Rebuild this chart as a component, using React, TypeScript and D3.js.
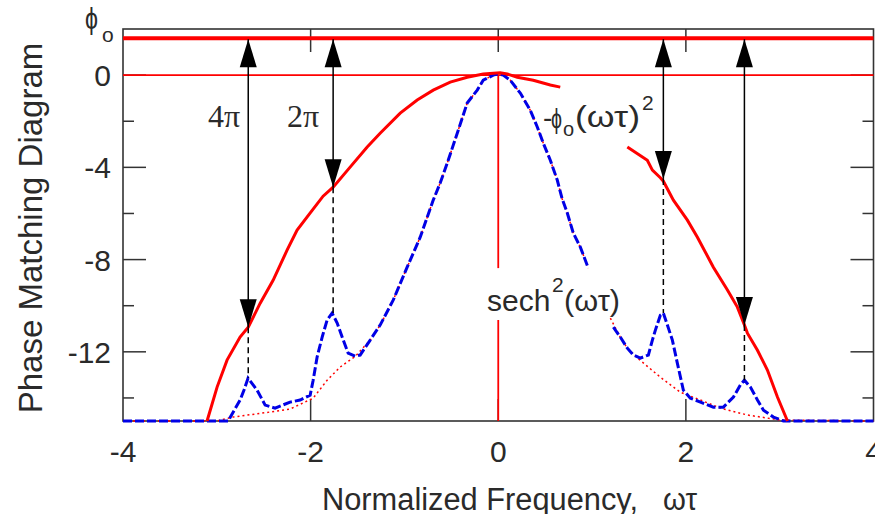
import React from 'react';
import * as d3 from 'd3';

const W = 875;
const H = 514;

const xDomain: [number, number] = [-4, 4];
const yDomain: [number, number] = [-15, 2];
const xTickLabels = ['-4', '-2', '0', '2', '4'];
const xTickValues = [-4, -2, 0, 2, 4];
const xInnerTicks = [-2, 0, 2];
const yMajorTicks = [0, -4, -8, -12];
const yTickLabels = ['0', '-4', '-8', '-12'];
const yMinorTicks = [-2, -6, -10, -14];
const phi0 = 1.6;

// -phi0 (w tau)^2 phase curve (red, solid)
const phaseLeft: [number, number][] = [
  [-3.104, -15], [-2.997, -13.53], [-2.891, -12.36], [-2.752, -11.36], [-2.665, -10.93],
  [-2.539, -9.9], [-2.4, -8.9], [-2.251, -7.59], [-2.144, -6.72], [-2.0, -5.95],
  [-1.867, -5.25], [-1.76, -4.86], [-1.579, -3.99], [-1.397, -3.12], [-1.259, -2.52],
  [-1.045, -1.65], [-0.864, -1.08], [-0.693, -0.65], [-0.512, -0.3], [-0.331, -0.09],
  [-0.16, 0.05], [0.02, 0.1], [0.096, 0.05], [0.203, -0.09], [0.373, -0.22],
  [0.555, -0.43], [0.661, -0.52],
];
const phaseRight: [number, number][] = [
  [1.376, -3.12], [1.589, -3.69], [1.643, -4.12], [1.728, -4.45], [1.76, -4.6],
  [1.867, -5.42], [2.016, -6.29], [2.123, -7.03], [2.293, -8.33], [2.443, -9.32],
  [2.549, -10.06], [2.624, -10.84], [2.656, -11.19], [2.763, -11.93], [2.869, -12.79],
  [2.976, -13.96], [3.083, -15],
];

// spectrum with sidelobes (blue, dashed)
const spectrumLeft: [number, number][] = [
  [-4, -15], [-2.88, -15], [-2.752, -14.09], [-2.71, -13.66], [-2.667, -13.14],
  [-2.571, -13.66], [-2.485, -14.31], [-2.379, -14.44], [-2.219, -14.18], [-2.112, -14.09],
  [-2.005, -13.88], [-1.973, -13.23], [-1.931, -12.23], [-1.877, -11.36], [-1.824, -10.62],
  [-1.771, -10.32], [-1.717, -10.75], [-1.664, -11.36], [-1.6, -12.06], [-1.525, -12.19],
  [-1.472, -12.14], [-1.365, -11.49], [-1.259, -10.84], [-1.12, -9.76], [-0.971, -8.33],
  [-0.832, -7.03], [-0.693, -5.42], [-0.619, -4.68], [-0.544, -3.82], [-0.437, -2.52],
  [-0.331, -1.21], [-0.224, -0.65], [-0.16, -0.22], [-0.053, 0], [0, 0.05],
  [0.053, 0], [0.128, -0.22], [0.235, -0.78], [0.341, -1.52], [0.416, -2.25],
  [0.48, -2.95], [0.555, -3.69], [0.629, -4.55], [0.68, -5.35], [0.736, -5.98],
  [0.8, -6.85], [0.875, -7.46], [0.96, -8.37],
];
const spectrumRight: [number, number][] = [
  [1.227, -10.93], [1.301, -11.36], [1.376, -11.84], [1.44, -12.14], [1.515, -12.27],
  [1.6, -12.14], [1.643, -11.49], [1.675, -11.06], [1.728, -10.41], [1.76, -10.32],
  [1.803, -10.84], [1.856, -11.49], [1.909, -12.49], [1.973, -13.66], [2.048, -14.01],
  [2.155, -14.18], [2.293, -14.4], [2.4, -14.4], [2.507, -13.96], [2.581, -13.44],
  [2.624, -13.23], [2.688, -13.53], [2.763, -14.09], [2.827, -14.53], [2.933, -14.83],
  [3.04, -15], [4, -15],
];

// sech^2 baseline (red, dotted)
const baselineLeft: [number, number][] = [
  [-4, -15], [-3.0, -15], [-2.827, -14.83], [-2.432, -14.61], [-2.219, -14.48],
  [-1.973, -14.01], [-1.824, -13.23], [-1.685, -12.66], [-1.525, -12.2], [-1.365, -11.49],
  [-1.259, -10.84], [-1.12, -9.76], [-0.971, -8.33], [-0.832, -7.03], [-0.693, -5.42],
  [-0.619, -4.68], [-0.544, -3.82], [-0.437, -2.52], [-0.331, -1.21], [-0.224, -0.65],
  [-0.16, -0.22], [-0.053, 0], [0, 0.05], [0.053, 0], [0.128, -0.22], [0.235, -0.78],
  [0.341, -1.52], [0.416, -2.25], [0.48, -2.95], [0.555, -3.69], [0.629, -4.55],
  [0.68, -5.35], [0.736, -5.98], [0.8, -6.85], [0.875, -7.46], [0.96, -8.37],
];
const baselineRight: [number, number][] = [
  [1.195, -10.54], [1.3, -11.36], [1.376, -11.84], [1.493, -12.3], [1.728, -13.1],
  [1.941, -13.75], [2.155, -14.09], [2.368, -14.44], [2.656, -14.74], [3.008, -14.96],
  [4, -15],
];

// arrows: 4pi, 2pi, 2pi, 4pi
const arrowX = [-2.665, -1.76, 1.76, 2.624];
const arrowTipY = [-10.93, -4.86, -4.5, -10.84];
const sidelobePeakY = [-13.14, -10.32, -10.32, -13.23];

// zero-frequency vertical line, interrupted by the sech^2 label
const zeroLineSegments: [number, number][] = [[0, -8.37], [-10.62, -15]];

const x = d3.scaleLinear().domain(xDomain).range([123, 873.5]);
const y = d3.scaleLinear().domain(yDomain).range([421, 29]);
const line = d3.line<[number, number]>().x((d) => x(d[0])).y((d) => y(d[1]));

const RED = '#ff0000';
const BLUE = '#0000e6';
const AX = '#333333';
const TXT = '#2a2a2a';
const SANS = '"Liberation Sans", Arial, sans-serif';
const SERIF = '"Liberation Serif", "Times New Roman", serif';

export default function App() {
  const left = x(xDomain[0]);
  const right = x(xDomain[1]);
  const top = y(yDomain[1]);
  const bottom = y(yDomain[0]);
  const headH = 28;
  const headW = 8.5;
  return (
    <svg width={W} height={H} style={{ position: 'absolute', left: 0, top: 0, background: '#fff' }}
      fontFamily={SANS}>
      <rect x={0} y={0} width={W} height={H} fill="#fff" />
      {/* ticks */}
      {yMajorTicks.map((v) => (
        <g key={'ym' + v}>
          <line x1={left} x2={left + 23} y1={y(v)} y2={y(v)} stroke={AX} strokeWidth={1.5} />
          <line x1={right} x2={right - 23} y1={y(v)} y2={y(v)} stroke={AX} strokeWidth={1.5} />
        </g>
      ))}
      {yMinorTicks.map((v) => (
        <g key={'yn' + v}>
          <line x1={left} x2={left + 11} y1={y(v)} y2={y(v)} stroke={AX} strokeWidth={1.5} />
          <line x1={right} x2={right - 11} y1={y(v)} y2={y(v)} stroke={AX} strokeWidth={1.5} />
        </g>
      ))}
      {xInnerTicks.map((v) => (
        <g key={'xt' + v}>
          <line x1={x(v)} x2={x(v)} y1={bottom} y2={bottom - 22} stroke={AX} strokeWidth={1.5} />
          <line x1={x(v)} x2={x(v)} y1={top} y2={top + 23} stroke={AX} strokeWidth={1.5} />
        </g>
      ))}
      <rect x={left} y={top} width={right - left} height={bottom - top} fill="none" stroke={AX} strokeWidth={1.6} />

      {/* reference lines */}
      <line x1={left} x2={right} y1={y(0)} y2={y(0)} stroke={RED} strokeWidth={1.8} />
      {zeroLineSegments.map((s, i) => (
        <line key={'z' + i} x1={x(0)} x2={x(0)} y1={y(s[0])} y2={y(s[1])} stroke={RED} strokeWidth={1.8} />
      ))}

      {/* baseline dotted */}
      {[baselineLeft, baselineRight].map((d, i) => (
        <path key={'b' + i} d={line(d) || ''} fill="none" stroke={RED} strokeWidth={1.5} strokeDasharray="2,3" />
      ))}
      {/* spectrum dashed */}
      {[spectrumLeft, spectrumRight].map((d, i) => (
        <path key={'s' + i} d={line(d) || ''} fill="none" stroke={BLUE} strokeWidth={3} strokeDasharray="9,3" />
      ))}
      {/* phase curve */}
      {[phaseLeft, phaseRight].map((d, i) => (
        <path key={'p' + i} d={line(d) || ''} fill="none" stroke={RED} strokeWidth={3} />
      ))}
      <line x1={left} x2={right} y1={y(phi0)} y2={y(phi0)} stroke={RED} strokeWidth={4} />

      {/* arrows */}
      {arrowX.map((ax, i) => {
        const cx = x(ax);
        const yTop = y(phi0) + 1;
        const yTip = y(arrowTipY[i]);
        const yPeak = y(sidelobePeakY[i]);
        return (
          <g key={'a' + i}>
            <line x1={cx} x2={cx} y1={yTop} y2={yTip} stroke="#000" strokeWidth={1.5} />
            <line x1={cx} x2={cx} y1={yTip} y2={yPeak} stroke="#000" strokeWidth={1.5} strokeDasharray="6,4" />
            <path d={`M${cx},${yTop} L${cx + headW},${yTop + headH} L${cx - headW},${yTop + headH} Z`} fill="#000" />
            <path d={`M${cx},${yTip} L${cx + headW},${yTip - headH} L${cx - headW},${yTip - headH} Z`} fill="#000" />
          </g>
        );
      })}

      {/* tick labels */}
      {yMajorTicks.map((v, i) => (
        <text key={'yl' + v} x={111} y={y(v) + 11} textAnchor="end" fontSize={30} fill={TXT}>{yTickLabels[i]}</text>
      ))}
      {xTickValues.map((v, i) => (
        <text key={'xl' + v} x={x(v)} y={462} textAnchor="middle" fontSize={30} fill={TXT}>{xTickLabels[i]}</text>
      ))}
      {/* phi_o label on y axis */}
      <text x={85} y={29} fontSize={30} fill={TXT} textLength={13} lengthAdjust="spacingAndGlyphs">ϕ</text>
      <text x={102} y={42} fontSize={21} fill={TXT}>o</text>

      {/* axis titles */}
      <text transform="translate(42,228) rotate(-90)" textAnchor="middle" fontSize={33} fill={TXT}>Phase Matching Diagram</text>
      <text x={322} y={510} fontSize={31} fill={TXT} textLength={316} lengthAdjust="spacingAndGlyphs">Normalized Frequency,</text>
      <text x={663} y={510} fontSize={31} fill={TXT} textLength={34} lengthAdjust="spacingAndGlyphs">ωτ</text>

      {/* annotations */}
      <text x={208} y={127} fontSize={32} fontFamily={SERIF} fill={TXT}>4π</text>
      <text x={287} y={127} fontSize={32} fontFamily={SERIF} fill={TXT}>2π</text>

      <text x={543} y={127} fontSize={28} fill={TXT}>-</text>
      <text x={551} y={128} fontSize={28} fill={TXT} textLength={11} lengthAdjust="spacingAndGlyphs">ϕ</text>
      <text x={563} y={136} fontSize={20} fill={TXT}>o</text>
      <text x={575} y={127} fontSize={30} fill={TXT} textLength={65} lengthAdjust="spacingAndGlyphs">(ωτ)</text>
      <text x={642} y={110} fontSize={21} fill={TXT}>2</text>

      <text x={487} y={311} fontSize={30} fill={TXT}>sech</text>
      <text x={552} y={292} fontSize={21} fill={TXT}>2</text>
      <text x={564} y={311} fontSize={30} fill={TXT} textLength={56} lengthAdjust="spacingAndGlyphs">(ωτ)</text>
    </svg>
  );
}
